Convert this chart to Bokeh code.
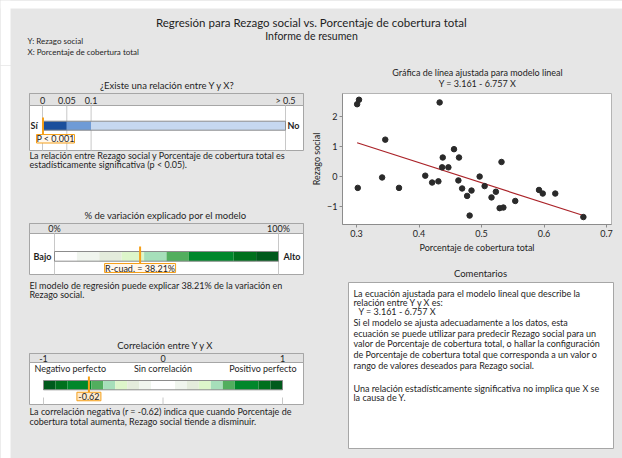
from bokeh.plotting import figure
from bokeh.models import Range1d, FixedTicker
from bokeh.layouts import column, row
from bokeh.embed import file_html
from bokeh.resources import INLINE
from bokeh.core.properties import value

# ---------------- data ----------------
x_cobertura = [0.301, 0.304, 0.433, 0.346, 0.302, 0.341, 0.368, 0.410, 0.421, 0.431,
               0.437, 0.438, 0.447, 0.456, 0.464, 0.463, 0.469, 0.477, 0.481, 0.484,
               0.497, 0.505, 0.516, 0.523, 0.532, 0.529, 0.535, 0.554, 0.592, 0.598,
               0.618, 0.663]
y_rezago = [2.42, 2.57, 2.48, 1.23, -0.39, -0.04, -0.39, 0.02, -0.21, -0.17,
            0.30, 0.63, 0.30, 0.91, 0.63, -0.14, -0.41, -0.66, -1.32, -0.48,
            -0.01, -0.33, -0.71, -0.52, 0.48, -1.07, -1.05, -0.83, -0.46, -0.58,
            -0.58, -1.37]
fit_intercept = 3.161
fit_slope = -6.757

p_value = 0.001
p_ticks = [0, 0.05, 0.1, 0.5]
p_tick_labels = ["0", "0.05", "0.1", "> 0.5"]
p_bins = [0, 0.05, 0.1, 0.5]
p_colors = ["#1b4f9c", "#6f9bd6", "#c6d8f0"]

r_sq = 38.21
rsq_ticks = [0, 100]
rsq_tick_labels = ["0%", "100%"]
rsq_bins = [0, 10, 20, 30, 40, 50, 60, 80, 90, 100]
greens = ["#ffffff", "#f0f5ee", "#e4ecdc", "#ddf6ca", "#a6dfba", "#52ae5e",
          "#00872b", "#00701d", "#005a1c"]

r_value = -0.62
r_ticks = [-1, 0, 1]
r_tick_labels = ["-1", "0", "1"]
r_bins = [-1, -0.9, -0.8, -0.6, -0.5, -0.4, -0.3, -0.2, -0.1, 0,
          0.1, 0.2, 0.3, 0.4, 0.5, 0.6, 0.8, 0.9, 1]
r_colors = greens[::-1] + greens

x_ticks = [0.3, 0.4, 0.5, 0.6, 0.7]
y_ticks = [-1, 0, 1, 2]

# ---------------- style ----------------
BG = "#e6e6e6"
TXT = "#1e1e1e"
BORDER = "#a6a6a6"
STRIP = "#e2e2e2"
GRIDC = "#c8c8c8"
ORANGE = "#f5a01a"
FONT = "Lato"
FS = "9px"


def canvas(w, h):
    p = figure(width=w, height=h, x_range=Range1d(0, w), y_range=Range1d(h, 0),
               output_backend="svg", toolbar_location=None, min_border=0,
               x_axis_location=None, y_axis_location=None)
    p.grid.visible = False
    p.outline_line_color = None
    p.background_fill_color = BG
    p.border_fill_color = BG
    p.frame_align = False
    return p


def txt(p, x, y, s, size=FS, align="left", bold=False, color=TXT, rn="default"):
    p.text(x=[x], y=[y], text=[s], text_font=value(FONT), text_font_size=value(size),
           text_align=align, text_baseline="middle", text_color=color,
           text_font_style="bold" if bold else "normal", x_range_name=rn)


def box(p, l, r, t, b, fill="white", line=BORDER):
    p.quad(left=[l], right=[r], top=[t], bottom=[b], fill_color=fill, line_color=line,
           line_width=1)


def scale_range(W, v0, a, v1, b):
    unit = (v1 - v0) / (b - a)
    start = v0 - a * unit
    return Range1d(start, start + W * unit)


# ---------------- header (image y 0..65) ----------------
hdr = canvas(622, 65)
hdr.quad(left=[0], right=[622], top=[0], bottom=[8], fill_color="white", line_color=None)
hdr.quad(left=[0], right=[10], top=[0], bottom=[65], fill_color="white", line_color=None)
txt(hdr, 311, 22, "Regresión para Rezago social vs. Porcentaje de cobertura total", size="11.5px", align="center")
txt(hdr, 311, 35.5, "Informe de resumen", size="10.5px", align="center")
txt(hdr, 27, 40.5, "Y: Rezago social", size="8px")
txt(hdr, 27, 51, "X: Porcentaje de cobertura total", size="8px")

# ---------------- left column (gauges), image x 0..306, y 65..458 ----------------
LW, LH = 306, 393
lc = canvas(LW, LH)
lc.quad(left=[0], right=[10], top=[0], bottom=[LH], fill_color="white", line_color=None)
lc.extra_x_ranges = {
    "pv": scale_range(LW, 0, 42, 0.5, 285),
    "rsq": scale_range(LW, 0, 54, 100, 278),
    "r": scale_range(LW, -1, 43, 1, 282),
}

# Panel 1 : p-value
txt(lc, 167, 20, "¿Existe una relación entre Y y X?", size="9.5px", align="center")
box(lc, 29, 303, 28, 85)
box(lc, 29, 303, 28, 40, fill=STRIP)
for v, s in zip(p_ticks, p_tick_labels):
    txt(lc, v, 34.5, s, align="center", rn="pv")
lc.segment(x0=p_ticks, x1=p_ticks, y0=[40] * 4, y1=[85] * 4, line_color=GRIDC, x_range_name="pv")
lc.quad(left=p_bins[:-1], right=p_bins[1:], top=[55.7] * 3, bottom=[64.7] * 3,
        fill_color=p_colors, line_color=None, x_range_name="pv")
lc.quad(left=[p_bins[0]], right=[p_bins[-1]], top=[55.7], bottom=[64.7], fill_color=None,
        line_color="#8c8c8c", x_range_name="pv")
txt(lc, 30, 60.2, "Sí", bold=True)
txt(lc, 287, 60.2, "No", bold=True)
lc.segment(x0=[p_value], x1=[p_value], y0=[52], y1=[69], line_color=ORANGE, line_width=2,
           x_range_name="pv")
box(lc, 36, 74, 69, 77.5, fill="#fff7ec", line=ORANGE)
txt(lc, 55, 73.3, "P < 0.001", align="center")
txt(lc, 29, 90, "La relación entre Rezago social y Porcentaje de cobertura total es")
txt(lc, 29, 99.3, "estadísticamente significativa (p < 0.05).")

# Panel 2 : R-squared
txt(lc, 165, 150, "% de variación explicado por el modelo", size="9.5px", align="center")
box(lc, 29, 303, 158, 209)
box(lc, 29, 303, 158, 168, fill=STRIP)
for v, s in zip(rsq_ticks, rsq_tick_labels):
    txt(lc, v, 163, s, align="center", rn="rsq")
lc.segment(x0=rsq_ticks, x1=rsq_ticks, y0=[168] * 2, y1=[209] * 2, line_color=GRIDC, x_range_name="rsq")
n = len(greens)
lc.quad(left=rsq_bins[:-1], right=rsq_bins[1:], top=[186] * n, bottom=[195.7] * n,
        fill_color=greens, line_color=None, x_range_name="rsq")
lc.quad(left=[rsq_bins[0]], right=[rsq_bins[-1]], top=[186], bottom=[195.7], fill_color=None,
        line_color="#8c8c8c", x_range_name="rsq")
txt(lc, 33, 191, "Bajo", bold=True)
txt(lc, 283, 191, "Alto", bold=True)
lc.segment(x0=[r_sq], x1=[r_sq], y0=[181], y1=[198], line_color=ORANGE, line_width=2,
           x_range_name="rsq")
lc.rect(x=[r_sq], y=[202.5], width=71, height=9, width_units="screen", height_units="screen",
        fill_color="#fff7ec", line_color=ORANGE, x_range_name="rsq")
txt(lc, r_sq, 202.8, "R-cuad. = 38.21%", align="center", rn="rsq")
txt(lc, 29, 220, "El modelo de regresión puede explicar 38.21% de la variación en")
txt(lc, 29, 229.3, "Rezago social.")

# Panel 3 : correlation
txt(lc, 165, 280, "Correlación entre Y y X", size="9.5px", align="center")
box(lc, 29, 303, 288, 339)
box(lc, 29, 303, 288, 297, fill=STRIP)
for v, s in zip(r_ticks, r_tick_labels):
    txt(lc, v, 292.8, s, align="center", rn="r")
txt(lc, 34, 303, "Negativo perfecto")
txt(lc, 0, 303, "Sin correlación", align="center", rn="r")
txt(lc, 296, 303, "Positivo perfecto", align="right")
m = len(r_colors)
lc.quad(left=r_bins[:-1], right=r_bins[1:], top=[315] * m, bottom=[324.3] * m,
        fill_color=r_colors, line_color=None, x_range_name="r")
lc.quad(left=[r_bins[0]], right=[r_bins[-1]], top=[315], bottom=[324.3], fill_color=None,
        line_color="#8c8c8c", x_range_name="r")
lc.segment(x0=r_ticks, x1=r_ticks, y0=[332] * 3, y1=[339] * 3, line_color=GRIDC, x_range_name="r")
lc.segment(x0=[r_value], x1=[r_value], y0=[311], y1=[327], line_color=ORANGE, line_width=2,
           x_range_name="r")
lc.rect(x=[r_value], y=[331], width=24, height=8.5, width_units="screen", height_units="screen",
        fill_color="#fde9cc", line_color=ORANGE, x_range_name="r")
txt(lc, r_value, 331.3, "-0.62", align="center", rn="r")
txt(lc, 29, 346, "La correlación negativa (r = -0.62) indica que cuando Porcentaje de")
txt(lc, 29, 355.7, "cobertura total aumenta, Rezago social tiende a disminuir.")

# ---------------- right column, image x 306..622 ----------------
RX = 306
RW = 622 - RX
st = canvas(RW, 27)
txt(st, 477 - RX, 7, "Gráfica de línea ajustada para modelo lineal", align="center")
txt(st, 477 - RX, 18, "Y = 3.161 - 6.757 X", align="center")

sp = figure(width=RW, height=163, x_range=Range1d(0.2776, 0.708), y_range=Range1d(-1.62, 2.78),
            output_backend="svg", toolbar_location=None, min_border_left=342 - RX, min_border_right=11,
            min_border_top=1, min_border_bottom=27)
sp.frame_align = False
sp.background_fill_color = "white"
sp.border_fill_color = BG
sp.outline_line_color = "#b4b4b4"
sp.grid.visible = False
xmin, xmax = min(x_cobertura), max(x_cobertura)
sp.line([xmin, xmax], [fit_intercept + fit_slope * xmin, fit_intercept + fit_slope * xmax],
        line_color="#aa2228", line_width=1.2)
sp.scatter(x_cobertura, y_rezago, size=5.5, fill_color="#2a2a2a", line_color="#2a2a2a")
sp.xaxis.ticker = FixedTicker(ticks=x_ticks)
sp.yaxis.ticker = FixedTicker(ticks=y_ticks)
sp.xaxis.axis_label = "Porcentaje de cobertura total"
sp.yaxis.axis_label = "Rezago social"
for ax in (sp.xaxis, sp.yaxis):
    ax.axis_label_text_font = FONT
    ax.axis_label_text_font_size = "9px"
    ax.axis_label_text_font_style = "normal"
    ax.axis_label_text_color = TXT
    ax.major_label_text_font = FONT
    ax.major_label_text_font_size = "9px"
    ax.major_label_text_color = TXT
    ax.axis_line_color = "#8c8c8c"
    ax.major_tick_line_color = "#8c8c8c"
    ax.major_tick_out = 3
    ax.major_tick_in = 0
    ax.minor_tick_line_color = None
    ax.major_label_standoff = 2
    ax.axis_label_standoff = 2

cm = canvas(RW, 203)
txt(cm, 480 - RX, 18, "Comentarios", size="9.5px", align="center")
box(cm, 348 - RX, 613 - RX, 27, 193)
comment_lines = [
    (353, 37.7, "La ecuación ajustada para el modelo lineal que describe la"),
    (353, 46.7, "relación entre Y y X es:"),
    (358, 55.7, "Y = 3.161 - 6.757 X"),
    (353, 66.7, "Si el modelo se ajusta adecuadamente a los datos, esta"),
    (353, 77.7, "ecuación se puede utilizar para predecir Rezago social para un"),
    (353, 88.3, "valor de Porcentaje de cobertura total, o hallar la configuración"),
    (353, 99.0, "de Porcentaje de cobertura total que corresponda a un valor o"),
    (353, 110.0, "rango de valores deseados para Rezago social."),
    (353, 133.3, "Una relación estadísticamente significativa no implica que X se"),
    (353, 142.3, "la causa de Y."),
]
for x, y, s in comment_lines:
    txt(cm, x - RX, y, s)

bgstyle = {"background-color": BG}
layout = column(hdr, row(lc, column(st, sp, cm, spacing=0, styles=bgstyle), spacing=0, styles=bgstyle),
                spacing=0, styles=bgstyle)

open("out.html", "w").write(file_html(layout, INLINE))
